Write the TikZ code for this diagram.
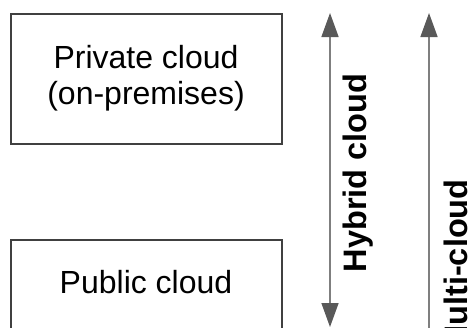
\documentclass[tikz,border=0pt]{standalone}
\usepackage{fontspec}
\setmainfont{Liberation Sans}
\usetikzlibrary{arrows.meta}
\definecolor{boxline}{HTML}{404040}
\definecolor{shaftc}{HTML}{7F7F7F}
\definecolor{headc}{HTML}{595959}
\begin{document}
\begin{tikzpicture}[x=1pt,y=-1pt,
  cbox/.style={draw=boxline, line width=1.5pt, minimum width=271pt, minimum height=130pt, inner sep=0pt, anchor=north west},
  lbl/.style={font=\fontsize{32}{36}\selectfont, align=center, inner sep=0pt, text=black},
  vlbl/.style={font=\fontsize{32.5}{38}\selectfont\bfseries, rotate=90, anchor=base, inner sep=0pt, text=black},
  garrow/.style={draw=shaftc, line width=1.5pt,
    {Triangle[length=24pt,width=17pt,color=headc]}-{Triangle[length=24pt,width=17pt,color=headc]}}
]
\useasboundingbox (0,0) rectangle (468,327);
\clip (0,0) rectangle (468,327);
% boxes
\node[cbox] (priv) at (10,13) {};
\node[cbox] (pub) at (10,239) {};
\node[lbl] (privt) at (146,78) {Private cloud\\(on-premises)};
\node[lbl, anchor=base] (pubt) at (146,293) {Public cloud};
% arrows
\coordinate (hyt) at (330,13);
\coordinate (hyb) at (330,327);
\coordinate (mut) at (429,13);
\coordinate (mub) at (429,365);
\draw[garrow] (hyt) -- (hyb);
\draw[garrow] (mut) -- (mub);
% labels
\node[vlbl] (hyl) at (366,173) {Hybrid cloud};
\node[vlbl] (mul) at (467,266) {Multi-cloud};
\end{tikzpicture}
\end{document}
